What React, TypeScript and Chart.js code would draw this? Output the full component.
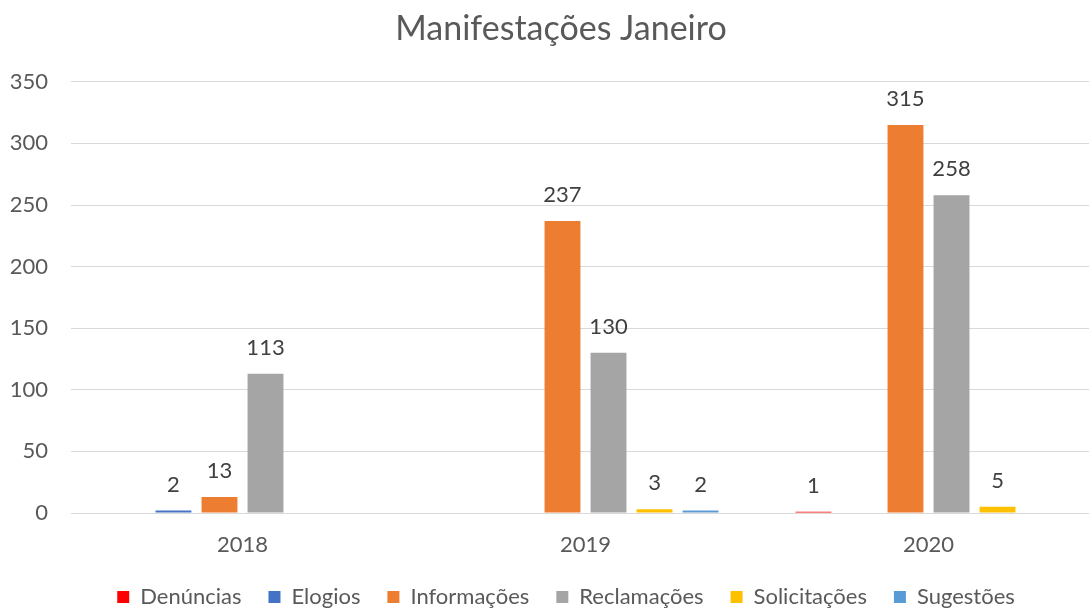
import React, { useEffect, useRef } from "react";
import { Chart, registerables } from "chart.js";

Chart.register(...registerables);

const categories = ["2018", "2019", "2020"];
const seriesNames = ["Denúncias", "Elogios", "Informações", "Reclamações", "Solicitações", "Sugestões"];
const denuncias = [0, 0, 1];
const elogios = [2, 0, 0];
const informacoes = [13, 237, 315];
const reclamacoes = [113, 130, 258];
const solicitacoes = [0, 3, 5];
const sugestoes = [0, 2, 0];
const seriesColors = ["#FF0000", "#4472C4", "#ED7D31", "#A5A5A5", "#FFC000", "#5B9BD5"];
const yMin = 0;
const yMax = 350;
const yStep = 50;

const FONT = "Lato, 'Open Sans', sans-serif";

const labelPlugin = {
  id: "barValueLabels",
  afterDatasetsDraw(chart: any) {
    const ctx = chart.ctx;
    ctx.save();
    ctx.font = `22px ${FONT}`;
    ctx.fillStyle = "#404040";
    ctx.textAlign = "center";
    ctx.textBaseline = "alphabetic";
    chart.data.datasets.forEach((ds: any, i: number) => {
      const meta = chart.getDatasetMeta(i);
      meta.data.forEach((el: any, j: number) => {
        const v = ds.data[j];
        if (v === null || v === undefined || v === 0) return;
        ctx.fillText(String(v), el.x, el.y - 19);
      });
    });
    ctx.restore();
  },
};

// nudge title and legend horizontally (the original chart is wider than the crop)
const centerShiftPlugin = {
  id: "centerShift",
  afterLayout(chart: any) {
    const t = chart.titleBlock;
    if (t) {
      t.left += 11;
      t.right += 11;
    }
    const l = chart.legend;
    if (l) {
      l.left += 16;
      l.right += 16;
    }
  },
};

export default function App() {
  const ref = useRef<HTMLCanvasElement | null>(null);
  useEffect(() => {
    if (!ref.current) return;
    const seriesData = [denuncias, elogios, informacoes, reclamacoes, solicitacoes, sugestoes];
    const chart = new Chart(ref.current, {
      type: "bar",
      data: {
        labels: categories,
        datasets: seriesNames.map((name, i) => ({
          label: name,
          data: seriesData[i],
          backgroundColor: seriesColors[i],
          borderWidth: 0,
          categoryPercentage: 0.805,
          barPercentage: 0.78,
        })),
      },
      options: {
        responsive: false,
        animation: false,
        layout: { padding: { left: 0, right: 22, top: 0, bottom: 0 } },
        plugins: {
          title: {
            display: true,
            text: "Manifestações Janeiro",
            color: "#595959",
            font: { family: FONT, size: 34, weight: "normal" },
            padding: { top: 9, bottom: 32 },
          },
          legend: {
            position: "bottom",
            labels: {
              color: "#595959",
              font: { family: FONT, size: 22 },
              boxWidth: 12,
              boxHeight: 12,
              padding: 27,
            },
          },
          tooltip: { enabled: false },
        },
        scales: {
          x: {
            grid: { display: false, drawTicks: false },
            border: { display: true, color: "#D9D9D9", width: 1 },
            ticks: {
              color: "#595959",
              font: { family: FONT, size: 22 },
              padding: 19,
            },
            afterFit: (scale: any) => {
              scale.height = 46;
            },
          },
          y: {
            min: yMin,
            max: yMax,
            grid: { color: "#D9D9D9", lineWidth: 1, drawTicks: false },
            border: { display: false },
            ticks: {
              stepSize: yStep,
              color: "#595959",
              font: { family: FONT, size: 22 },
              padding: 23,
            },
            afterFit: (scale: any) => {
              scale.width = 71;
            },
          },
        },
      },
      plugins: [labelPlugin, centerShiftPlugin],
    });
    return () => chart.destroy();
  }, []);

  return (
    <div
      style={{
        position: "fixed",
        left: 0,
        top: 0,
        width: 1089,
        height: 609,
        overflow: "hidden",
        background: "#FFFFFF",
      }}
    >
      <canvas ref={ref} width={1122} height={618} style={{ width: 1122, height: 618, display: "block" }} />
    </div>
  );
}
